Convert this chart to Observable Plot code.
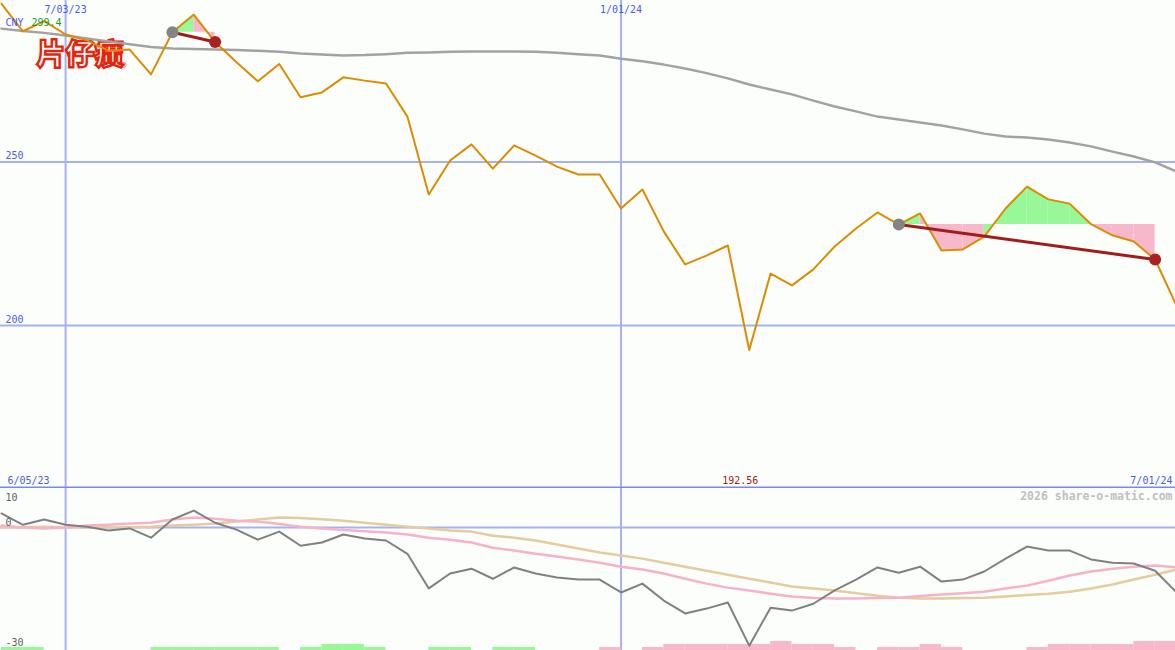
<!DOCTYPE html>
<html><head><meta charset="utf-8">
<script src="https://cdn.jsdelivr.net/npm/d3@7"></script>
<script src="https://cdn.jsdelivr.net/npm/@observablehq/plot@0.6"></script>
<style>
body{margin:0;background:#fbfefb;}
#top,#bot{display:block;line-height:0;}
svg{display:block;}
</style></head><body><div id="top"></div><div id="bot"></div>
<script>
const dates = ["2023-06-12","2023-06-19","2023-06-26","2023-07-03","2023-07-10","2023-07-17","2023-07-24","2023-07-31","2023-08-07","2023-08-14","2023-08-21","2023-08-28","2023-09-04","2023-09-11","2023-09-18","2023-09-25","2023-10-02","2023-10-09","2023-10-16","2023-10-23","2023-10-30","2023-11-06","2023-11-13","2023-11-20","2023-11-27","2023-12-04","2023-12-11","2023-12-18","2023-12-25","2024-01-01","2024-01-08","2024-01-15","2024-01-22","2024-01-29","2024-02-05","2024-02-12","2024-02-19","2024-02-26","2024-03-04","2024-03-11","2024-03-18","2024-03-25","2024-04-01","2024-04-08","2024-04-15","2024-04-22","2024-04-29","2024-05-06","2024-05-13","2024-05-20","2024-05-27","2024-06-03","2024-06-10","2024-06-17","2024-06-24","2024-07-01"];
const price = [298.4,290.0,293.1,289.0,287.2,284.1,284.4,276.8,289.7,295.1,286.7,280.5,274.7,280.0,269.8,271.3,275.9,274.9,274.0,263.9,240.1,250.5,255.4,248.0,255.1,252.0,248.6,246.2,246.2,235.8,241.6,228.8,218.7,221.4,224.5,192.56,215.9,212.3,217.2,224.2,229.7,234.6,230.9,234.3,223.0,223.3,227.2,235.8,242.5,238.6,237.3,231.0,227.6,225.7,220.2,206.1];
const movingAvg = [290.8,290.1,289.5,288.7,287.8,286.9,286.0,285.2,284.7,284.6,284.4,284.3,284.0,283.7,283.2,282.9,282.6,282.7,283.0,283.4,283.5,283.7,283.8,283.8,283.8,283.7,283.4,283.0,282.6,281.6,280.8,279.8,278.6,277.2,275.6,273.7,272.2,270.7,268.8,267.0,265.5,263.9,263.0,262.1,261.2,260.0,258.7,257.8,257.5,256.9,256.0,254.8,253.2,251.7,249.9,247.1];
const momentum = [3.5,0.7,2.0,0.7,0.2,-0.7,-0.2,-2.5,2.0,4.2,1.2,-0.5,-3.0,-1.0,-4.5,-3.7,-1.7,-2.7,-3.2,-6.5,-15.1,-11.4,-10.2,-12.7,-9.9,-11.4,-12.4,-12.9,-12.9,-16.1,-13.9,-18.1,-21.3,-20.1,-18.6,-29.3,-19.9,-20.6,-18.9,-15.6,-12.9,-9.9,-11.2,-9.7,-13.4,-12.9,-10.9,-7.7,-4.7,-5.7,-5.7,-7.9,-8.7,-8.9,-10.7,-16.1];
const signalFast = [0.5,0.0,-0.2,0.0,0.5,0.7,1.0,1.2,2.0,2.5,2.2,1.7,1.5,0.9,0.2,-0.2,-0.6,-0.9,-1.2,-1.7,-2.5,-3.0,-3.7,-5.0,-5.7,-6.5,-7.2,-7.9,-8.7,-9.7,-10.4,-11.4,-12.7,-13.9,-14.9,-15.6,-16.4,-17.1,-17.5,-17.6,-17.6,-17.5,-17.4,-17.0,-16.6,-16.3,-15.9,-15.1,-14.4,-13.2,-11.9,-10.9,-10.2,-9.7,-9.4,-9.9];
const signalSlow = [0.0,0.1,0.2,0.1,0.0,0.0,0.1,0.2,0.5,0.7,1.0,1.5,2.0,2.5,2.4,2.1,1.7,1.2,0.7,0.2,-0.2,-0.7,-1.0,-2.0,-2.5,-3.2,-4.2,-5.2,-6.2,-6.9,-7.7,-8.7,-9.7,-10.7,-11.7,-12.7,-13.6,-14.6,-15.1,-15.6,-16.3,-16.9,-17.4,-17.6,-17.6,-17.5,-17.4,-17.1,-16.7,-16.4,-15.9,-15.1,-14.1,-12.9,-11.7,-10.4];
// weekly bar levels between consecutive points (55 intervals)
const barLevels = [1,1,0,0,0,0,0,1,1,1,1,1,1,0,1,2,2,1,0,0,1,1,0,1,1,0,0,0,-1,0,-1,-2,-2,-2,-2,-2,-3,-2,-2,-1,0,-1,-1,-2,-1,0,0,0,-1,-2,-2,-2,-2,-3,-3];
const trades = [{entry: 8, exit: 10}, {entry: 42, exit: 54}];
const gridDates = ["2023-07-03","2024-01-01"];
const priceTicks = [250, 200];
const priceTop = 299.4, priceBottom = 150.5;
const oscTop = 9.7, oscBottom = -30.5;
const currency = "CNY";
const startLabel = "6/05/23";
const logoText = "片仔癀";
const watermark = "2026 share-o-matic.com";

const parse = d3.utcParse("%Y-%m-%d");
const fmt = d3.utcFormat("%-m/%d/%y");
const D = dates.map(parse);
const G = gridDates.map(parse);
const rows = D.map((d, i) => ({date: d, price: price[i], ma: movingAvg[i], mom: momentum[i], fast: signalFast[i], slow: signalSlow[i]}));

const GREEN = "#98f898", PINK = "#f8b8cc";
const segs = [];
trades.forEach((t, ti) => {
  const lvl = price[t.entry];
  for (let i = t.entry; i < t.exit; i++) {
    const col = price[i + 1] >= lvl ? GREEN : PINK;
    segs.push({date: D[i], p: price[i], lvl, key: ti + "-" + i, col});
    segs.push({date: D[i + 1], p: price[i + 1], lvl, key: ti + "-" + i, col});
  }
});
const links = trades.map(t => ({x1: D[t.entry], y1: price[t.entry], x2: D[t.exit], y2: price[t.exit]}));
const entries = trades.map(t => ({date: D[t.entry], p: price[t.entry]}));
const exits = trades.map(t => ({date: D[t.exit], p: price[t.exit]}));
const minIdx = d3.minIndex(price);

const GRID = "#a4b2f2", SEP = "#7888f0", BLUE = "#4c5ce8";
const xOpt = {type: "utc", domain: [D[0], D[D.length - 1]], range: [1, 1176], axis: null};
const font = {fontFamily: "DejaVu Sans Mono", fontSize: "10px", background: "#fbfefb", overflow: "hidden"};

const topChart = Plot.plot({
  width: 1175, height: 488, marginTop: 0, marginBottom: 1, marginLeft: 0, marginRight: 0,
  style: font,
  x: xOpt,
  y: {domain: [priceBottom, priceTop], axis: null},
  color: {type: "identity"},
  marks: [
    Plot.ruleY(priceTicks, {stroke: GRID, strokeWidth: 2}),
    Plot.ruleX(G, {stroke: GRID, strokeWidth: 2}),
    Plot.text([logoText], {frameAnchor: "top-left", dx: 36, dy: 64, lineAnchor: "bottom", textAnchor: "start", fontSize: 29, fontWeight: 900, fontFamily: "Noto Sans CJK SC", fill: "#ffffff", stroke: "#e4260e", strokeWidth: 2.4, strokeLinejoin: "miter", paintOrder: "normal"}),
    Plot.text(["®"], {frameAnchor: "top-left", dx: 121, dy: 67, lineAnchor: "bottom", textAnchor: "start", fontSize: 8, fill: "#e4260e"}),
    Plot.area(segs, {x1: "date", y1: "lvl", y2: "p", z: "key", fill: "col"}),
    Plot.line(rows, {x: "date", y: "ma", stroke: "#a2a2a2", strokeWidth: 2.5}),
    Plot.line(rows, {x: "date", y: "price", stroke: "#dc8c00", strokeWidth: 2}),
    Plot.link(links, {x1: "x1", y1: "y1", x2: "x2", y2: "y2", stroke: "#a21c1c", strokeWidth: 3}),
    Plot.dot(entries, {x: "date", y: "p", r: 6, fill: "#848484"}),
    Plot.dot(exits, {x: "date", y: "p", r: 6, fill: "#a82222"}),
    Plot.ruleY([priceBottom], {stroke: SEP, strokeWidth: 2}),
    Plot.text(priceTicks, {y: d => d, text: d => String(d), frameAnchor: "left", dx: 5, dy: -3, textAnchor: "start", lineAnchor: "bottom", fill: BLUE}),
    Plot.text(G, {x: d => d, text: d => fmt(d), frameAnchor: "top", dy: 12.5, lineAnchor: "bottom", fill: BLUE}),
    Plot.text([currency], {frameAnchor: "top-left", dx: 5, dy: 25, lineAnchor: "bottom", textAnchor: "start", fill: BLUE}),
    Plot.text([priceTop], {text: d => d.toFixed(1), frameAnchor: "top-left", dx: 31, dy: 25, lineAnchor: "bottom", textAnchor: "start", fill: "#1e9a1e"}),
    Plot.text([startLabel], {frameAnchor: "bottom-left", dx: 7, dy: -4, lineAnchor: "bottom", textAnchor: "start", fill: BLUE}),
    Plot.text([minIdx], {x: i => D[i], text: i => price[i].toFixed(2), frameAnchor: "bottom", dx: -9, dy: -4, lineAnchor: "bottom", fill: "#a01c1c"}),
    Plot.text([D[D.length - 1]], {text: d => fmt(d), frameAnchor: "bottom-right", dx: -3, dy: -4, lineAnchor: "bottom", textAnchor: "end", fill: BLUE})
  ]
});
document.getElementById("top").appendChild(topChart);

const barRows = barLevels.map((v, i) => ({x1: D[i], x2: D[i + 1], v})).filter(d => d.v !== 0);
const barUnit = 0.75;

const botChart = Plot.plot({
  width: 1175, height: 162, marginTop: 0, marginBottom: 0, marginLeft: 0, marginRight: 0,
  style: font,
  x: xOpt,
  y: {domain: [oscBottom, oscTop], axis: null},
  color: {type: "identity"},
  marks: [
    Plot.ruleX(G, {stroke: GRID, strokeWidth: 2}),
    Plot.ruleY([0], {stroke: GRID, strokeWidth: 2}),
    Plot.rect(barRows, {x1: "x1", x2: "x2", y1: oscBottom, y2: d => oscBottom + Math.abs(d.v) * barUnit, fill: d => d.v > 0 ? GREEN : PINK}),
    Plot.line(rows, {x: "date", y: "slow", stroke: "#e4cc9e", strokeWidth: 2.5}),
    Plot.line(rows, {x: "date", y: "fast", stroke: "#f8b2c8", strokeWidth: 2.5}),
    Plot.line(rows, {x: "date", y: "mom", stroke: "#808080", strokeWidth: 2}),
    Plot.text([10], {text: d => String(d), frameAnchor: "top-left", dx: 5, dy: 12, lineAnchor: "bottom", textAnchor: "start", fill: "#606060"}),
    Plot.text([0, -30], {y: d => d, text: d => String(d), frameAnchor: "left", dx: 5, dy: -2, lineAnchor: "bottom", textAnchor: "start", fill: "#606060"}),
    Plot.text([watermark], {frameAnchor: "top-right", dx: -3, dy: 11.5, lineAnchor: "bottom", textAnchor: "end", fill: "#c0c0c0", fontWeight: "bold", fontSize: 11.5})
  ]
});
document.getElementById("bot").appendChild(botChart);
</script></body></html>
